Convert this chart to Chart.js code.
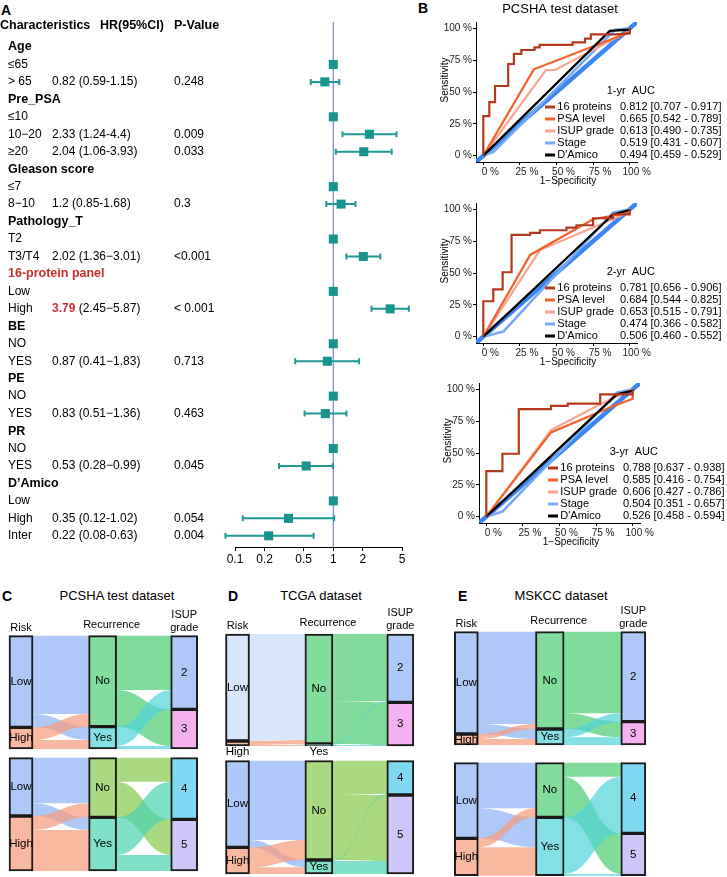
<!DOCTYPE html>
<html><head><meta charset="utf-8">
<script src="https://cdn.jsdelivr.net/npm/chart.js@4.4.1/dist/chart.umd.min.js"></script>
<style>
html,body{margin:0;padding:0;background:#fff}
body{width:727px;height:877px;position:relative;overflow:hidden;font-family:"Liberation Sans",Arial,sans-serif}
canvas{position:absolute}
.lbl{position:absolute;white-space:nowrap;color:#000;line-height:1}
.letter{font-weight:bold;font-size:14px}
.ttl{font-size:13px;transform:translateX(-50%)}
</style></head><body>
<div class="lbl letter" style="left:1px;top:3px">A</div>
<div class="lbl letter" style="left:418px;top:1px">B</div>
<div class="lbl letter" style="left:2px;top:589px">C</div>
<div class="lbl ttl" style="left:117px;top:589px">PCSHA test dataset</div>
<div class="lbl letter" style="left:228px;top:589px">D</div>
<div class="lbl ttl" style="left:321px;top:589px">TCGA dataset</div>
<div class="lbl letter" style="left:458px;top:589px">E</div>
<div class="lbl ttl" style="left:561px;top:589px">MSKCC dataset</div>
<script>
// ================= DATA =================
// Panel A: forest plot
const forestLabels = ['Age','≤65','> 65','Pre_PSA','≤10','10−20','≥20','Gleason score','≤7','8−10','Pathology_T','T2','T3/T4','16-protein panel','Low','High','BE','NO','YES','PE','NO','YES','PR','NO','YES','D’Amico','Low','High','Inter'];
const forestHR = [null,1,0.82,null,1,2.33,2.04,null,1,1.2,null,1,2.02,null,1,3.79,null,1,0.87,null,1,0.83,null,1,0.53,null,1,0.35,0.22];
const forestLo = [null,null,0.59,null,null,1.24,1.06,null,null,0.85,null,null,1.36,null,null,2.45,null,null,0.41,null,null,0.51,null,null,0.28,null,null,0.12,0.08];
const forestHi = [null,null,1.15,null,null,4.4,3.93,null,null,1.68,null,null,3.01,null,null,5.87,null,null,1.83,null,null,1.36,null,null,0.99,null,null,1.02,0.63];
const forestCI = ['','','(0.59-1.15)','','','(1.24-4.4)','(1.06-3.93)','','','(0.85-1.68)','','','(1.36−3.01)','','','(2.45−5.87)','','','(0.41−1.83)','','','(0.51−1.36)','','','(0.28−0.99)','','','(0.12-1.02)','(0.08-0.63)'];
const forestP = ['','','0.248','','','0.009','0.033','','','0.3','','','<0.001','','','< 0.001','','','0.713','','','0.463','','','0.045','','','0.054','0.004'];
const forestHeaders = ['Characteristics','HR(95%CI)','P-Value'];
const forestTicks = [0.1,0.2,0.5,1,2,5];
const forestHighlight = '16-protein panel';

// Panel B: ROC curves [1-Specificity, Sensitivity]
const rocModels = ['16 proteins','PSA level','ISUP grade','Stage',"D'Amico"];
const rocTicks = [0,0.25,0.5,0.75,1];
const rocTickLabels = ['0 %','25 %','50 %','75 %','100 %'];
const rocDiagonal = [[-0.05,-0.05],[1.05,1.05]];
const roc1yrTitle = '1-yr  AUC';
const roc1yrAUC = ['0.812 [0.707 - 0.917]','0.665 [0.542 - 0.789]','0.613 [0.490 - 0.735]','0.519 [0.431 - 0.607]','0.494 [0.459 - 0.529]'];
const roc1yr16 = [[0,0],[0,0.31],[0.041,0.31],[0.041,0.42],[0.08,0.42],[0.08,0.547],[0.17,0.547],[0.17,0.72],[0.209,0.72],[0.209,0.8],[0.26,0.8],[0.26,0.83],[0.35,0.83],[0.35,0.85],[0.385,0.85],[0.385,0.87],[0.61,0.87],[0.61,0.89],[0.695,0.89],[0.695,0.92],[0.735,0.92],[0.735,0.953],[0.905,0.953],[1,0.96],[1,1]];
const roc1yrPSA = [[0,0],[0.345,0.678],[1,0.97],[1,1]];
const roc1yrISUP = [[0,0],[0.427,0.673],[0.49,0.673],[1,0.98],[1,1]];
const roc1yrStage = [[0,0],[0.07,0.03],[0.9,0.99],[1,1]];
const roc1yrDAmico = [[0,0],[0.864,0.98],[1,0.99],[1,1]];
const roc2yrTitle = '2-yr  AUC';
const roc2yrAUC = ['0.781 [0.656 - 0.906]','0.684 [0.544 - 0.825]','0.653 [0.515 - 0.791]','0.474 [0.366 - 0.582]','0.506 [0.460 - 0.552]'];
const roc2yr16 = [[0,0],[0,0.278],[0.068,0.278],[0.068,0.371],[0.132,0.371],[0.132,0.506],[0.193,0.506],[0.193,0.8],[0.32,0.8],[0.32,0.816],[0.387,0.816],[0.387,0.836],[0.568,0.836],[0.568,0.857],[0.636,0.857],[0.636,0.875],[0.75,0.875],[0.75,0.93],[0.886,0.93],[0.886,0.96],[1,0.96],[1,1]];
const roc2yrPSA = [[0,0],[0.32,0.642],[0.75,0.922],[1,0.974],[1,1]];
const roc2yrISUP = [[0,0],[0.387,0.68],[1,0.98],[1,1]];
const roc2yrStage = [[0,0],[0.137,0.04],[0.886,0.974],[1,1]];
const roc2yrDAmico = [[0,0],[0.886,0.96],[1,0.995],[1,1]];
const roc3yrTitle = '3-yr  AUC';
const roc3yrAUC = ['0.788 [0.637 - 0.938]','0.585 [0.416 - 0.754]','0.606 [0.427 - 0.786]','0.504 [0.351 - 0.657]','0.526 [0.458 - 0.594]'];
const roc3yr16 = [[0,0],[0,0.358],[0.11,0.358],[0.11,0.494],[0.222,0.494],[0.222,0.844],[0.442,0.844],[0.442,0.87],[0.556,0.87],[0.556,0.888],[0.778,0.888],[0.778,0.96],[1,0.96],[1,1]];
const roc3yrPSA = [[0,0],[0.442,0.662],[0.87,0.87],[1,0.927],[1,1]];
const roc3yrISUP = [[0,0],[0.442,0.68],[0.778,0.883],[1,1]];
const roc3yrStage = [[0,0],[0.11,0.04],[0.892,0.974],[1,1]];
const roc3yrDAmico = [[0,0],[0.892,0.961],[1,0.99],[1,1]];

// Panels C-E: alluvial (Risk -> Recurrence -> ISUP grade), link counts
const sankeyColumns = ['Risk','Recurrence','ISUP grade'];
const riskNodes = ['Low','High'];
const recurNodes = ['No','Yes'];
const isupLowNodes = ['2','3'];
const isupHighNodes = ['4','5'];
const cTopRiskRec = [[235,40],[38,27]];
const cTopRecIsup = [[163,110],[58,9]];
const cBotRiskRec = [[137,38],[42,123]];
const cBotRecIsup = [[72,107],[113,48]];
const dTopRiskRec = [[318,3],[12,3]];
const dTopRecIsup = [[202,128],[3,3]];
const dBotRiskRec = [[238,22],[60,20]];
const dBotRecIsup = [[100,198],[3,39]];
const eTopRiskRec = [[277,30],[15,18]];
const eTopRecIsup = [[245,47],[25,23]];
const eBotRiskRec = [[137,90],[27,85]];
const eBotRecIsup = [[42,122],[170,5]];

// ================= STYLE / LAYOUT =================
const FONT = '"Liberation Sans", Arial, sans-serif';
Chart.defaults.font.family = FONT;
Chart.defaults.color = '#000';
Chart.defaults.animation = false;

function addCanvas(left, top, w, h) {
  const c = document.createElement('canvas');
  c.width = w; c.height = h;
  c.style.left = left + 'px'; c.style.top = top + 'px';
  c.style.width = w + 'px'; c.style.height = h + 'px';
  document.body.appendChild(c);
  return c;
}

// ---------- Panel A ----------
const forestPlugin = {
  id: 'forestDeco',
  beforeDatasetsDraw(chart) {
    const { ctx, chartArea: ca, scales: { x, y } } = chart;
    ctx.save();
    const x1 = x.getPixelForValue(1);
    ctx.strokeStyle = '#7d83d4'; ctx.lineWidth = 1.2;
    ctx.beginPath(); ctx.moveTo(x1, ca.top); ctx.lineTo(x1, ca.bottom); ctx.stroke();
    ctx.strokeStyle = '#1f9a95'; ctx.lineWidth = 2;
    forestLo.forEach((lo, i) => {
      if (lo == null) return;
      const py = y.getPixelForValue(i), a = x.getPixelForValue(lo), b = x.getPixelForValue(forestHi[i]);
      ctx.beginPath();
      ctx.moveTo(a, py); ctx.lineTo(b, py);
      ctx.moveTo(a, py - 3); ctx.lineTo(a, py + 3);
      ctx.moveTo(b, py - 3); ctx.lineTo(b, py + 3);
      ctx.stroke();
    });
    ctx.restore();
  },
  afterDraw(chart) {
    const { ctx, scales: { y } } = chart;
    ctx.save();
    ctx.textBaseline = 'middle'; ctx.textAlign = 'left'; ctx.fillStyle = '#000';
    ctx.font = 'bold 12.5px ' + FONT;
    ctx.fillText(forestHeaders[0], 0, 26);
    ctx.fillText(forestHeaders[1], 100, 26);
    ctx.fillText(forestHeaders[2], 174, 26);
    let group = '';
    forestLabels.forEach((lab, i) => {
      const py = y.getPixelForValue(i);
      const header = forestHR[i] == null;
      if (header) group = lab;
      const hl = group === forestHighlight;
      ctx.font = (header ? 'bold 12.5px ' : '12px ') + FONT;
      ctx.fillStyle = (header && hl) ? '#c8302e' : '#000';
      ctx.fillText(lab, 8, py);
      if (forestLo[i] != null) {
        const hrTxt = String(forestHR[i]);
        let xx = 52;
        if (hl) { ctx.font = 'bold 12px ' + FONT; ctx.fillStyle = '#c8302e'; }
        else { ctx.font = '12px ' + FONT; ctx.fillStyle = '#000'; }
        ctx.fillText(hrTxt, xx, py);
        xx += ctx.measureText(hrTxt).width;
        ctx.font = '12px ' + FONT; ctx.fillStyle = '#000';
        ctx.fillText(' ' + forestCI[i], xx, py);
        ctx.fillText(forestP[i], 174, py);
      }
    });
    ctx.restore();
  }
};

const forestCanvas = addCanvas(0, 0, 440, 577);
new Chart(forestCanvas, {
  type: 'scatter',
  data: { datasets: [{
    data: forestHR.map((v, i) => v == null ? null : { x: v, y: i }).filter(Boolean),
    pointStyle: 'rect', pointRadius: 6.4, pointHoverRadius: 6.4,
    backgroundColor: '#18948f', borderWidth: 0, clip: false
  }] },
  options: {
    responsive: false, animation: false, events: [],
    layout: { padding: { left: 235, right: 38, top: 22, bottom: 0 } },
    scales: {
      x: {
        type: 'logarithmic', min: 0.1, max: 5,
        afterBuildTicks: a => { a.ticks = forestTicks.map(v => ({ value: v })); },
        afterFit: a => { a.height = 30; },
        ticks: { callback: v => String(v), font: { size: 12 }, padding: 1, autoSkip: false, maxRotation: 0, color: '#000' },
        grid: { drawOnChartArea: false, tickLength: 4, color: '#000' },
        border: { color: '#000', width: 1 }
      },
      y: { type: 'linear', display: false, min: -1.43, max: 28.64, reverse: true }
    },
    plugins: { legend: { display: false }, tooltip: { enabled: false } }
  },
  plugins: [forestPlugin]
});

// ---------- Panel B ----------
const rocColors = ['#b5391d', '#f4612c', '#f9a58f', '#76aaf4', '#000000'];
const rocWidths = [2.2, 2.2, 2.2, 2.6, 2.2];
const rocOrder = [1, 3, 4, 5, 2];

function makeROC(left, top, curves, title, auc, mainTitle) {
  const cv = addCanvas(left, top, 287, 190);
  const datasets = curves.map((pts, k) => ({
    label: rocModels[k], data: pts.map(p => ({ x: p[0], y: p[1] })),
    borderColor: rocColors[k], borderWidth: rocWidths[k], showLine: true,
    pointRadius: 0, fill: false, order: rocOrder[k], tension: 0
  }));
  datasets.push({ label: 'ref', data: rocDiagonal.map(p => ({ x: p[0], y: p[1] })),
    borderColor: '#3a86f4', borderWidth: 4.5, showLine: true, pointRadius: 0, order: 10 });
  const axisCommon = {
    type: 'linear', min: -0.05, max: 1.05,
    afterBuildTicks: a => { a.ticks = rocTicks.map(v => ({ value: v })); },
    grid: { drawOnChartArea: false, tickLength: 3, color: '#000' },
    border: { color: '#000', width: 1 }
  };
  const plugin = {
    id: 'rocDeco',
    afterDraw(chart) {
      const ctx = chart.ctx;
      ctx.save();
      ctx.textBaseline = 'middle'; ctx.fillStyle = '#000';
      if (mainTitle) {
        ctx.font = '13px ' + FONT; ctx.textAlign = 'center';
        ctx.fillText(mainTitle, 120, 9.5);
      }
      ctx.textAlign = 'left';
      ctx.font = '11px ' + FONT;
      ctx.fillText(title, 166.7, 90.5);
      rocModels.forEach((m, k) => {
        const y = 107 + k * 12;
        ctx.strokeStyle = rocColors[k]; ctx.lineWidth = 3;
        ctx.beginPath(); ctx.moveTo(105, y); ctx.lineTo(115, y); ctx.stroke();
        ctx.fillText(m, 117.3, y);
        ctx.fillText(auc[k], 180, y);
      });
      ctx.font = '10px ' + FONT; ctx.textAlign = 'center';
      ctx.fillText('1−Specificity', 128, 181.5);
      ctx.translate(5.5, 80); ctx.rotate(-Math.PI / 2);
      ctx.fillText('Sensitivity', 0, 0);
      ctx.restore();
    }
  };
  new Chart(cv, {
    type: 'scatter',
    data: { datasets },
    options: {
      responsive: false, animation: false, events: [],
      layout: { padding: { left: 0, right: 90, top: 22, bottom: 0 } },
      scales: {
        x: Object.assign({}, axisCommon, {
          afterFit: a => { a.height = 28; },
          ticks: { callback: (v, i) => rocTickLabels[i], font: { size: 10 }, padding: 1, labelOffset: 7, autoSkip: false, maxRotation: 0, color: '#222' }
        }),
        y: Object.assign({}, axisCommon, {
          afterFit: a => { a.width = 36; },
          ticks: { callback: (v, i) => rocTickLabels[i], font: { size: 10 }, padding: 1, autoSkip: false, color: '#222' }
        })
      },
      plugins: { legend: { display: false }, tooltip: { enabled: false } }
    },
    plugins: [plugin]
  });
}
makeROC(440, 0, [roc1yr16, roc1yrPSA, roc1yrISUP, roc1yrStage, roc1yrDAmico], roc1yrTitle, roc1yrAUC, 'PCSHA test dataset');
makeROC(440, 181, [roc2yr16, roc2yrPSA, roc2yrISUP, roc2yrStage, roc2yrDAmico], roc2yrTitle, roc2yrAUC, null);
makeROC(443, 361, [roc3yr16, roc3yrPSA, roc3yrISUP, roc3yrStage, roc3yrDAmico], roc3yrTitle, roc3yrAUC, null);

// ---------- Panels C-E ----------
const COL = {
  low: '#aec9f8', lowPale: '#d8e6fb', high: '#f9b9a1',
  no: '#82dc9c', yes: '#84e0e4', no2: '#a9d981', yes2: '#80e0c8',
  g2: '#aec9f8', g3: '#f5b1ef', g4: '#80d8f2', g5: '#cec6f8'
};
const PX_PER_UNIT = 1 / 3;
const FLOW_ALPHA = 0.7;

function flowColor(hex) {
  const n = parseInt(hex.slice(1), 16);
  const ch = [(n >> 16) & 255, (n >> 8) & 255, n & 255].map(c => Math.max(0, Math.round((c - 255 * (1 - FLOW_ALPHA)) / FLOW_ALPHA)));
  return `rgba(${ch[0]},${ch[1]},${ch[2]},${FLOW_ALPHA})`;
}
const rowSums = m => m.map(r => r.reduce((a, b) => a + b, 0));
const colSums = m => m[0].map((_, j) => m.reduce((a, r) => a + r[j], 0));
const starts = arr => { let c = 0; return arr.map(v => { const s = c; c += v; return s; }); };

function makeSankey(nodes, links, pal, g) {
  const sizes = [rowSums(links[0]), colSums(links[0]), colSums(links[1])];
  const total = sizes[0].reduce((a, b) => a + b, 0);
  const margin = 24, padTop = g.header ? 30 : 4, padBottom = 14;
  const span = g.isupC - g.riskC;
  const left = Math.round(g.riskC - margin), top = Math.round(g.top - padTop);
  const padL = g.riskC - left, padT = g.top - top;
  const w = Math.round(padL + span + margin), h = Math.round(padT + total * PX_PER_UNIT + padBottom);
  const cv = addCanvas(left, top, w, h);
  const datasets = sizes.map((sz, c) => {
    let cum = 0;
    return {
      data: sz.map(v => { const d = { x: c, y: [cum, cum + v] }; cum += v; return d; }),
      backgroundColor: pal[c], borderColor: '#1b1b1b', borderWidth: 2, borderSkipped: false,
      barThickness: g.widths[c], grouped: false, clip: false
    };
  });
  const plugin = {
    id: 'sankeyDeco',
    beforeDatasetsDraw(chart) {
      const { ctx, scales: { x: xs, y: ys } } = chart;
      ctx.save();
      links.forEach((L, s) => {
        const sc = starts(sizes[s]), tc = starts(sizes[s + 1]);
        const x0 = xs.getPixelForValue(s) + g.widths[s] / 2 - 1;
        const x1 = xs.getPixelForValue(s + 1) - g.widths[s + 1] / 2 + 1;
        const xm = (x0 + x1) / 2;
        L.forEach((row, i) => row.forEach((v, j) => {
          if (!v) return;
          const a0 = ys.getPixelForValue(sc[i]), b0 = ys.getPixelForValue(sc[i] + v); sc[i] += v;
          const a1 = ys.getPixelForValue(tc[j]), b1 = ys.getPixelForValue(tc[j] + v); tc[j] += v;
          ctx.beginPath();
          ctx.moveTo(x0, a0); ctx.bezierCurveTo(xm, a0, xm, a1, x1, a1);
          ctx.lineTo(x1, b1); ctx.bezierCurveTo(xm, b1, xm, b0, x0, b0);
          ctx.closePath();
          ctx.fillStyle = flowColor(pal[s][i]);
          ctx.fill();
        }));
      });
      ctx.restore();
    },
    afterDatasetsDraw(chart) {
      const { ctx, chartArea: ca, scales: { x: xs, y: ys } } = chart;
      ctx.save();
      ctx.textAlign = 'center'; ctx.textBaseline = 'middle'; ctx.fillStyle = '#000';
      ctx.font = '11.5px ' + FONT;
      sizes.forEach((sz, c) => {
        const st = starts(sz);
        sz.forEach((v, k) => {
          let py = ys.getPixelForValue(st[k] + v / 2);
          if (v * PX_PER_UNIT < 9) py = ca.bottom + 6;
          ctx.fillText(nodes[c][k], xs.getPixelForValue(c), py);
        });
      });
      if (g.header) {
        ctx.font = '11px ' + FONT;
        ctx.fillText(sankeyColumns[0], xs.getPixelForValue(0), ca.top - 8);
        ctx.fillText(sankeyColumns[1], xs.getPixelForValue(1) + 9, ca.top - 11);
        const parts = sankeyColumns[2].split(' ');
        ctx.fillText(parts[0], xs.getPixelForValue(2), ca.top - 21);
        ctx.fillText(parts[1], xs.getPixelForValue(2), ca.top - 8);
      }
      ctx.restore();
    }
  };
  new Chart(cv, {
    type: 'bar',
    data: { datasets },
    options: {
      responsive: false, animation: false, events: [],
      layout: { padding: { left: padL, right: w - padL - span, top: padT, bottom: h - padT - total * PX_PER_UNIT } },
      scales: {
        x: { type: 'linear', display: false, min: 0, max: 2, offset: false },
        y: { type: 'linear', display: false, min: 0, max: total, reverse: true }
      },
      plugins: { legend: { display: false }, tooltip: { enabled: false } }
    },
    plugins: [plugin]
  });
}

const palTopStd = [[COL.low, COL.high], [COL.no, COL.yes], [COL.g2, COL.g3]];
const palTopD = [[COL.lowPale, COL.high], [COL.no, COL.yes], [COL.g2, COL.g3]];
const palBotAlt = [[COL.low, COL.high], [COL.no2, COL.yes2], [COL.g4, COL.g5]];
const palBotStd = [[COL.low, COL.high], [COL.no, COL.yes], [COL.g4, COL.g5]];
const nodesLow = [riskNodes, recurNodes, isupLowNodes];
const nodesHigh = [riskNodes, recurNodes, isupHighNodes];

makeSankey(nodesLow, [cTopRiskRec, cTopRecIsup], palTopStd, { riskC: 21, isupC: 184.2, top: 635.7, widths: [24, 28, 27], header: true });
makeSankey(nodesHigh, [cBotRiskRec, cBotRecIsup], palBotAlt, { riskC: 21, isupC: 184.2, top: 757.7, widths: [24, 28, 27], header: false });
makeSankey(nodesLow, [dTopRiskRec, dTopRecIsup], palTopD, { riskC: 237.5, isupC: 400.3, top: 634, widths: [24, 28, 27], header: true });
makeSankey(nodesHigh, [dBotRiskRec, dBotRecIsup], palBotAlt, { riskC: 237.5, isupC: 400.3, top: 760.7, widths: [24, 28, 27], header: false });
makeSankey(nodesLow, [eTopRiskRec, eTopRecIsup], palTopStd, { riskC: 466.3, isupC: 633.3, top: 631.7, widths: [24, 28.6, 25], header: true });
makeSankey(nodesHigh, [eBotRiskRec, eBotRecIsup], palBotStd, { riskC: 466.3, isupC: 633.3, top: 762.7, widths: [24, 28.6, 25], header: false });
</script>
</body></html>
